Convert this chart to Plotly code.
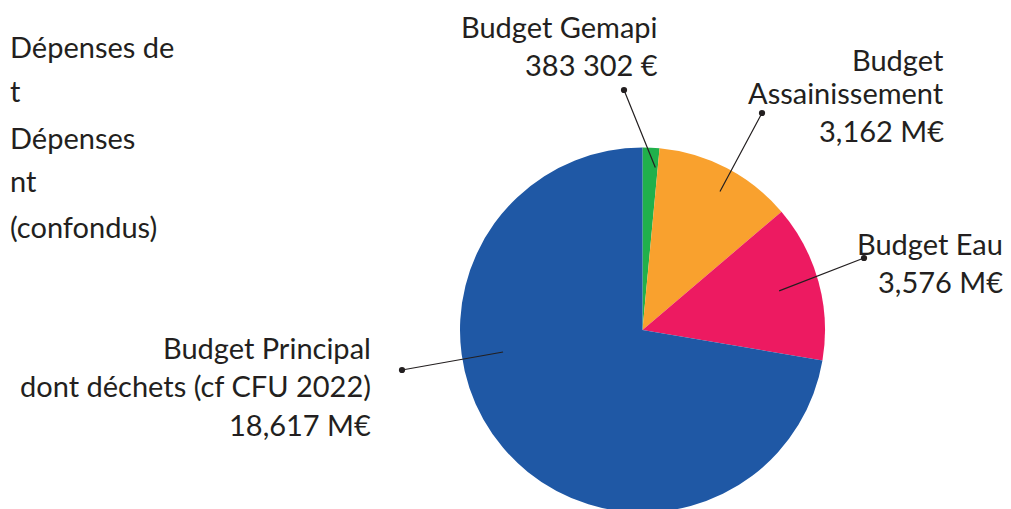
import math
import plotly.graph_objects as go

# ---- data ----
categories = ["Budget Gemapi", "Budget Assainissement", "Budget Eau",
              "Budget Principal dont déchets (cf CFU 2022)"]
values = [0.383302, 3.162, 3.576, 18.617]          # M€
slice_colors = ["#21B04B", "#F9A12E", "#ED1A61", "#1F58A5"]
label_lines = [
    ["Budget Gemapi", "383 302 €"],
    ["Budget", "Assainissement", "3,162 M€"],
    ["Budget Eau", "3,576 M€"],
    ["Budget Principal", "dont déchets (cf CFU 2022)", "18,617 M€"],
]
side_lines = ["Dépenses de", "t", "Dépenses", "nt", "(confondus)"]

# ---- layout constants (screen pixels) ----
W, H = 1011, 509
OFF = 8            # default page margin around the figure
CX, CY, R = 642.5, 330, 182.5
TXT = "#231F20"
FONT = "Lato"
FS = 29

def px(x):
    return (x - OFF) / W

def py(y):
    return 1 - (y - OFF) / H

fig = go.Figure(go.Pie(
    labels=categories,
    values=values,
    sort=False,
    direction="clockwise",
    rotation=0,
    marker=dict(colors=slice_colors, line=dict(width=0)),
    textinfo="none",
    hoverinfo="label+value",
    showlegend=False,
    domain=dict(x=[px(CX - R), px(CX + R)], y=[py(CY + R), py(CY - R)]),
))

annotations = []

# label text: (right x, baselines)
label_pos = [
    (660, [37, 75]),
    (946, [69, 103, 141]),
    (1005, [253, 291]),
    (373, [357, 395, 434]),
]
for lines, (rx, bases) in zip(label_lines, label_pos):
    for t, b in zip(lines, bases):
        annotations.append(dict(
            x=px(rx), y=py(b - 10), xref="paper", yref="paper",
            xanchor="right", yanchor="middle", showarrow=False,
            text=t, font=dict(family=FONT, size=FS, color=TXT),
        ))

# side text (left block)
for t, lx, b in zip(side_lines, [8, 8, 8, 8, 8], [57, 100, 147, 190, 236]):
    annotations.append(dict(
        x=px(lx), y=py(b - 10), xref="paper", yref="paper",
        xanchor="left", yanchor="middle", showarrow=False,
        text=t, font=dict(family=FONT, size=FS, color=TXT),
    ))

# leader lines: inner end computed from slice angles
total = sum(values)
starts = []
acc = 0.0
for v in values:
    starts.append(acc / total * 360)
    acc += v
spans = [v / total * 360 for v in values]
pos_in_slice = [0.89, 0.54, 0.49, 0.62]
radius_frac = [0.885, 0.86, 0.77, 0.765]
dots = [(624, 90), (762, 113), (864, 258), (402, 370)]
for s, sp, f, rf, (dx, dy) in zip(starts, spans, pos_in_slice, radius_frac, dots):
    ang = math.radians(s + f * sp)
    ix = CX + rf * R * math.sin(ang)
    iy = CY - rf * R * math.cos(ang)
    annotations.append(dict(
        x=px(dx), y=py(dy), xref="paper", yref="paper",
        ax=ix - dx, ay=iy - dy, axref="pixel", ayref="pixel",
        text="", showarrow=True, arrowhead=6, arrowsize=1.3,
        arrowwidth=1.2, arrowcolor=TXT, standoff=0, startstandoff=0,
    ))

fig.update_layout(
    width=W, height=H,
    margin=dict(l=0, r=0, t=0, b=0),
    paper_bgcolor="white", plot_bgcolor="white",
    annotations=annotations,
    font=dict(family=FONT, color=TXT),
)

fig.write_html("out.html")
